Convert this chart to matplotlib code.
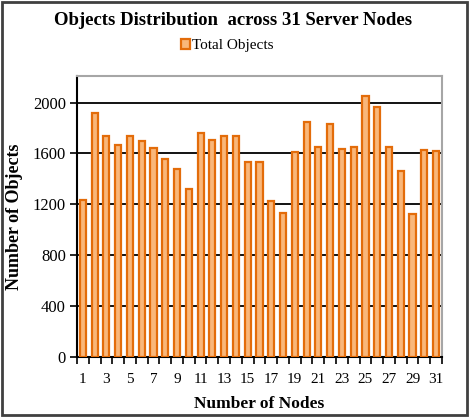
import matplotlib
matplotlib.use("Agg")
import matplotlib.pyplot as plt
import numpy as np
from matplotlib.patches import Rectangle

nodes = list(range(1, 32))
total_objects = [1235, 1915, 1740, 1668, 1740, 1700, 1642, 1560, 1476, 1323,
                 1760, 1705, 1737, 1737, 1536, 1536, 1225, 1130, 1615, 1845,
                 1652, 1831, 1639, 1650, 2055, 1963, 1652, 1462, 1120, 1631, 1618]
y_ticks = [0, 400, 800, 1200, 1600, 2000]
x_labels = [str(n) for n in nodes]

plt.rcParams['font.family'] = ['Liberation Serif', 'DejaVu Serif']

fig = plt.figure(figsize=(4.75, 4.17), dpi=100)
ax = fig.add_axes([0.162, 0.1446, 0.7685, 0.6731])

x = np.arange(len(nodes))
ax.bar(x, total_objects, width=0.52, color='#F9B77A', edgecolor='#E36C0A',
       linewidth=1.6, label='Total Objects', zorder=3)

ax.set_xlim(-0.5, len(nodes) - 0.5)
ax.set_ylim(0, 2210)
ax.set_yticks(y_ticks)
ax.set_yticklabels([str(v) for v in y_ticks], fontsize=12)
ax.yaxis.grid(True, color='black', linewidth=1.3, zorder=1)
ax.set_axisbelow(True)

ax.set_xticks(x[::2])
ax.set_xticklabels(x_labels[::2], fontsize=11)
ax.tick_params(axis='x', which='major', length=0, pad=12)
ax.set_xticks(np.arange(-0.5, len(nodes), 1.0), minor=True)
ax.tick_params(axis='x', which='minor', length=5, width=1.2, color='black', direction='out')
ax.tick_params(axis='y', length=5, width=1.2, direction='out', pad=3)

for s in ['left', 'bottom']:
    ax.spines[s].set_color('black')
    ax.spines[s].set_linewidth(1.5)
for s in ['top', 'right']:
    ax.spines[s].set_color('#A6A6A6')
    ax.spines[s].set_linewidth(1.5)

ax.set_xlabel('Number of Nodes', fontsize=12.5, fontweight='bold', labelpad=7)
ax.set_ylabel('Number of Objects', fontsize=13, fontweight='bold', labelpad=7)

fig.text(0.49, 0.951, 'Objects Distribution  across 31 Server Nodes', ha='center',
         va='center', fontsize=13.5, fontweight='bold')
leg = fig.legend(loc='center', bbox_to_anchor=(0.478, 0.89), frameon=False,
                 fontsize=11, handlelength=0.6, handleheight=0.6, handletextpad=0.15)

fig.patches.append(Rectangle((0.005, 0.005), 0.978, 0.99, transform=fig.transFigure,
                             fill=False, edgecolor='#404040', linewidth=2.0))

fig.savefig('out.png', dpi=100)
